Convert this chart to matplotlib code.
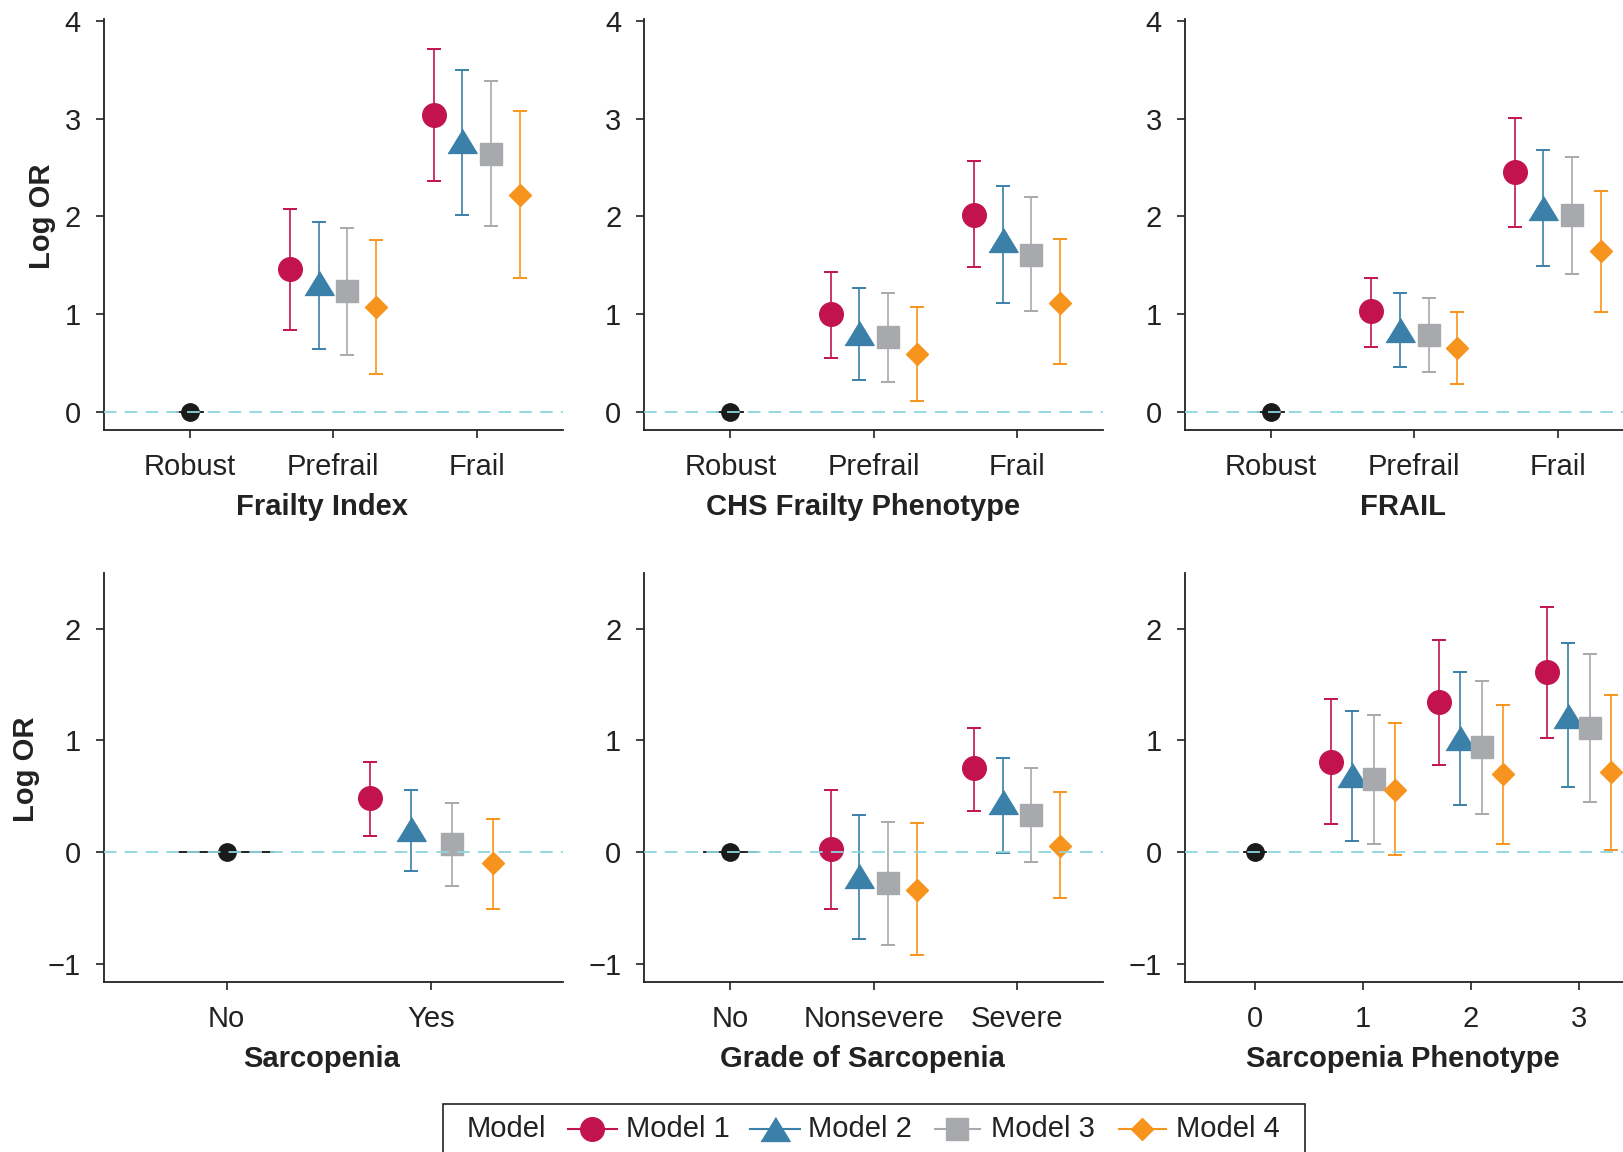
import matplotlib
matplotlib.use('Agg')
import matplotlib.pyplot as plt
from matplotlib.lines import Line2D
from matplotlib.patches import Rectangle

plt.rcParams['font.family'] = ['Liberation Sans', 'DejaVu Sans']

# ---------------- data ----------------
models = ['Model 1', 'Model 2', 'Model 3', 'Model 4']

fi_cats = ['Robust', 'Prefrail', 'Frail']
fi_est = [[1.46, 3.04], [1.32, 2.77], [1.24, 2.64], [1.075, 2.22]]
fi_lo = [[0.84, 2.36], [0.65, 2.01], [0.59, 1.90], [0.39, 1.37]]
fi_hi = [[2.08, 3.71], [1.94, 3.50], [1.885, 3.38], [1.76, 3.08]]

chs_cats = ['Robust', 'Prefrail', 'Frail']
chs_est = [[1.00, 2.02], [0.81, 1.76], [0.77, 1.61], [0.60, 1.12]]
chs_lo = [[0.56, 1.48], [0.335, 1.12], [0.31, 1.03], [0.12, 0.49]]
chs_hi = [[1.43, 2.57], [1.27, 2.315], [1.22, 2.20], [1.08, 1.77]]

frail_cats = ['Robust', 'Prefrail', 'Frail']
frail_est = [[1.03, 2.45], [0.84, 2.09], [0.79, 2.02], [0.66, 1.65]]
frail_lo = [[0.67, 1.89], [0.465, 1.49], [0.41, 1.41], [0.29, 1.02]]
frail_hi = [[1.37, 3.01], [1.22, 2.68], [1.17, 2.61], [1.02, 2.26]]

sarc_cats = ['No', 'Yes']
sarc_est = [[0.48], [0.21], [0.075], [-0.10]]
sarc_lo = [[0.146], [-0.17], [-0.30], [-0.51]]
sarc_hi = [[0.81], [0.555], [0.44], [0.30]]

grade_cats = ['No', 'Nonsevere', 'Severe']
grade_est = [[0.03, 0.75], [-0.21, 0.45], [-0.275, 0.33], [-0.335, 0.055]]
grade_lo = [[-0.51, 0.37], [-0.78, -0.005], [-0.83, -0.09], [-0.92, -0.41]]
grade_hi = [[0.56, 1.11], [0.33, 0.845], [0.27, 0.75], [0.26, 0.54]]

pheno_cats = ['0', '1', '2', '3']
pheno_est = [[0.81, 1.34, 1.61], [0.69, 1.02, 1.22], [0.65, 0.94, 1.11], [0.56, 0.70, 0.72]]
pheno_lo = [[0.25, 0.78, 1.02], [0.10, 0.42, 0.58], [0.07, 0.34, 0.45], [-0.03, 0.07, 0.015]]
pheno_hi = [[1.37, 1.90, 2.19], [1.26, 1.61, 1.87], [1.23, 1.53, 1.77], [1.155, 1.32, 1.41]]

xtitles = ['Frailty Index', 'CHS Frailty Phenotype', 'FRAIL',
           'Sarcopenia', 'Grade of Sarcopenia', 'Sarcopenia Phenotype']

# ---------------- style ----------------
colors = ['#C2134F', '#3B80A8', '#A7A9AC', '#F7941D']
tri = [(-1.0, -0.82), (1.0, -0.82), (0.0, 0.82)]
markers = ['o', tri, 's', 'D']
msizes = [17, 21, 16.5, 11]
offsets = [-0.3, -0.1, 0.1, 0.3]
ref_half = [0.09, 0.09, 0.09, 0.23, 0.18, 0.1]
xlims = {2: (-0.6, 1.64), 3: (-0.6, 2.6), 4: (-0.65, 3.6)}
TXT = '#222222'
LINE = '#222222'
FS = 21
W, H = 1624, 1152

fig = plt.figure(figsize=(W / 100, H / 100), dpi=100)

def fx(px):
    return px / W

def fy(py):
    return 1 - py / H

col_left = [103.6, 644.2, 1184.8]
ax_w = 459
rows = [dict(top=18.6, bottom=430.0, ylim=(-0.18, 4.02), yticks=[0, 1, 2, 3, 4], ylx=-0.134),
        dict(top=572.7, bottom=981.8, ylim=(-1.16, 2.5), yticks=[-1, 0, 1, 2], ylx=-0.169)]

panel_data = [
    (fi_cats, fi_est, fi_lo, fi_hi),
    (chs_cats, chs_est, chs_lo, chs_hi),
    (frail_cats, frail_est, frail_lo, frail_hi),
    (sarc_cats, sarc_est, sarc_lo, sarc_hi),
    (grade_cats, grade_est, grade_lo, grade_hi),
    (pheno_cats, pheno_est, pheno_lo, pheno_hi),
]

for i, (cats, est, lo, hi) in enumerate(panel_data):
    r = rows[i // 3]
    c = i % 3
    ax = fig.add_axes([fx(col_left[c]), fy(r['bottom']), ax_w / W, (r['bottom'] - r['top']) / H])
    n = len(cats)
    ax.set_xlim(*xlims[n])
    ax.set_ylim(*r['ylim'])
    ax.set_xticks(range(n))
    ax.set_xticklabels(cats)
    ax.set_yticks(r['yticks'])
    for s in ['top', 'right']:
        ax.spines[s].set_visible(False)
    for s in ['left', 'bottom']:
        ax.spines[s].set_color(LINE)
        ax.spines[s].set_linewidth(1.3)
    ax.tick_params(axis='both', direction='out', length=6, width=1.2, color=LINE,
                   labelsize=FS, labelcolor=TXT, pad=10.5)
    ax.patch.set_alpha(0)

    # reference level
    ax.plot([-ref_half[i], ref_half[i]], [0, 0], color='#111111', lw=1.3, zorder=8)
    ax.plot([0], [0], marker='o', ms=12.5, color='#1a1a1a', zorder=9, ls='none')
    ax.axhline(0, color='#8ED6DF', lw=1.3, ls=(0, (7, 4.5)), zorder=10)

    for m in range(4):
        xs = [k + 1 + offsets[m] for k in range(n - 1)]
        e = est[m]
        yerr = [[e[k] - lo[m][k] for k in range(n - 1)], [hi[m][k] - e[k] for k in range(n - 1)]]
        ax.errorbar(xs, e, yerr=yerr, fmt='none', ecolor=colors[m],
                    capsize=5, elinewidth=1.2, capthick=1.4, zorder=5)
        ax.plot(xs, e, ls='none', marker=markers[m], color=colors[m], ms=msizes[m],
                mec=colors[m], zorder=6)

    ax.set_xlabel(xtitles[i], fontsize=FS, fontweight='bold', color=TXT, va='center')
    ax.xaxis.set_label_coords(0.476, -0.188)
    if c == 0:
        ax.set_ylabel('Log OR', fontsize=FS, fontweight='bold', color=TXT, va='center')
        ax.yaxis.set_label_coords(r['ylx'], 0.52)

# ---------------- legend (drawn manually) ----------------
box = Rectangle((fx(443), fy(1165)), (1305 - 443) / W, (1165 - 1104) / H,
                transform=fig.transFigure, fill=False, edgecolor=LINE, lw=1.2, clip_on=False)
fig.add_artist(box)
ly = fy(1129)
fig.text(fx(467), ly, 'Model', fontsize=FS, color=TXT, va='center', ha='left')
handle_x = [(568, 617), (750, 800), (935, 980), (1119, 1166)]
text_x = [626, 808, 991, 1176]
for m in range(4):
    x0, x1 = handle_x[m]
    fig.add_artist(Line2D([fx(x0), fx(x1)], [ly, ly], transform=fig.transFigure,
                          color=colors[m], lw=1.5))
    fig.add_artist(Line2D([fx((x0 + x1) / 2)], [ly], transform=fig.transFigure,
                          marker=markers[m], ms=msizes[m], color=colors[m], ls='none'))
    fig.text(fx(text_x[m]), ly, models[m], fontsize=FS, color=TXT, va='center', ha='left')

fig.savefig('out.png', dpi=100)
